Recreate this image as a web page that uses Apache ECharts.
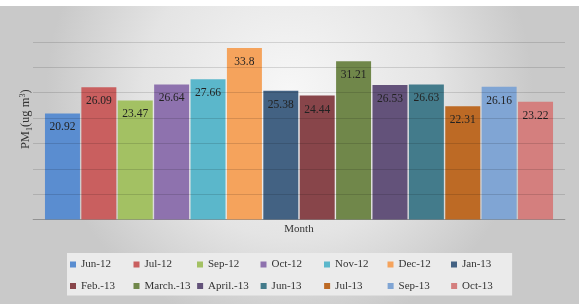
<!DOCTYPE html>
<html>
<head>
<meta charset="utf-8">
<script src="https://cdn.jsdelivr.net/npm/echarts@6/dist/echarts.min.js"></script>
<style>html,body{margin:0;padding:0;}#c{width:579px;height:304px;}</style>
</head>
<body>
<div id="c"></div>
<script>
var categories = ['Month'];
var seriesNames = ['Jun-12','Jul-12','Sep-12','Oct-12','Nov-12','Dec-12','Jan-13','Feb.-13','March.-13','April.-13','Jun-13','Jul-13','Sep-13','Oct-13'];
var values = [20.92, 26.09, 23.47, 26.64, 27.66, 33.8, 25.38, 24.44, 31.21, 26.53, 26.63, 22.31, 26.16, 23.22];
var colors = ['#5a8dd0','#c95f5f','#a3c163','#8e72ae','#5bb7cb','#f5a35c','#436283','#88454a','#70874a','#63527a','#437b8b','#bd6a25','#80a5d4','#d47f7e'];
var yTicks = [0, 5, 10, 15, 20, 25, 30, 35];

var FONT = '"Liberation Serif", "Times New Roman", serif';
var chart = echarts.init(document.getElementById('c'));
var series = seriesNames.map(function (n, i) {
  return {
    name: n,
    type: 'bar',
    data: [values[i]],
    itemStyle: { color: colors[i] },
    barGap: '4%',
    barCategoryGap: '4.5%',
    label: {
      show: true,
      position: 'insideTop',
      distance: 8,
      color: '#222',
      fontFamily: FONT,
      fontSize: 11.5,
      formatter: '{c}'
    }
  };
});
chart.setOption({
  animation: false,
  backgroundColor: {
    type: 'radial', x: 0.5, y: 0.3, r: 0.8,
    colorStops: [{ offset: 0, color: '#f7f7f7' }, { offset: 0.6, color: '#e4e4e4' }, { offset: 1, color: '#c9c9c9' }]
  },
  graphic: [{
    type: 'rect', shape: { x: 0, y: 0, width: 579, height: 6 },
    style: { fill: '#ffffff' }, z: 0
  }],
  color: colors,
  grid: { left: 33, right: 14, top: 42, bottom: 84.5 },
  legend: {
    data: seriesNames,
    left: 67,
    top: 253,
    width: 446,
    padding: [4, 4, 2, 3],
    backgroundColor: '#ebebeb',
    itemWidth: 6,
    itemHeight: 6,
    itemGap: 6.5,
    icon: 'rect',
    textStyle: { fontFamily: FONT, fontSize: 11, color: '#333', width: 46, lineHeight: 15 }
  },
  xAxis: {
    type: 'category',
    data: categories,
    axisLine: { lineStyle: { color: '#a8a8a8' } },
    axisTick: { show: false },
    axisLabel: { fontFamily: FONT, fontSize: 11, color: '#333', margin: 4 }
  },
  yAxis: {
    type: 'value',
    min: yTicks[0],
    max: yTicks[yTicks.length - 1],
    interval: 5,
    z: 3,
    axisLabel: { show: false },
    axisLine: { show: false },
    axisTick: { show: false },
    splitLine: { lineStyle: { color: 'rgba(0,0,0,0.13)' } },
    name: '{a|PM}{sub|1}{a|(ug m}{sup|3}{a|)}',
    nameLocation: 'middle',
    nameGap: -1,
    nameRotate: 90,
    nameTextStyle: {
      padding: [0, 0, 0, 23],
      rich: {
        a: { fontFamily: FONT, fontSize: 12.5, color: '#333', lineHeight: 16 },
        sub: { fontFamily: FONT, fontSize: 8, color: '#333', padding: [7, 0, 0, 0], lineHeight: 10 },
        sup: { fontFamily: FONT, fontSize: 8, color: '#333', padding: [0, 0, 7, 0], lineHeight: 10 }
      }
    }
  },
  series: series
});
</script>
</body>
</html>
